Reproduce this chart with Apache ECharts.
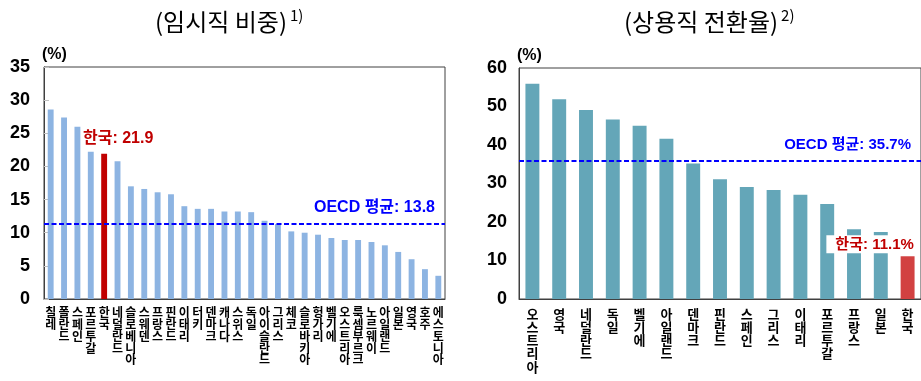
<!DOCTYPE html>
<html><head><meta charset="utf-8">
<script src="https://cdn.jsdelivr.net/npm/echarts@6/dist/echarts.min.js"></script>
<style>html,body{margin:0;padding:0;background:#fff}#c{width:921px;height:381px}</style>
</head><body><div id="c"></div>
<script>
const leftTitle = '(임시직 비중)';
const leftNote = '1)';
const rightTitle = '(상용직 전환율)';
const rightNote = '2)';
const leftCats = ['칠레','폴란드','스페인','포르투갈','한국','네덜란드','슬로베니아','스웨덴','프랑스','핀란드','이태리','터키','덴마크','캐나다','스위스','독일','아이슬란드','그리스','체코','슬로바키아','헝가리','벨기에','오스트리아','룩셈부르크','노르웨이','아일랜드','일본','영국','호주','에스토니아'];
const leftVals = [28.6,27.4,26.0,22.2,21.9,20.8,17.0,16.6,16.1,15.8,14.0,13.6,13.6,13.2,13.2,13.1,11.8,11.3,10.2,10.0,9.7,9.2,8.9,8.9,8.6,8.1,7.1,6.0,4.5,3.5];
const leftOecdLine = 11.4;
const leftOecdText = 'OECD 평균: 13.8';
const leftMax = 35, leftStep = 5;
const rightCats = ['오스트리아','영국','네덜란드','독일','벨기에','아일랜드','덴마크','핀란드','스페인','그리스','이태리','포르투갈','프랑스','일본','한국'];
const rightVals = [55.9,51.9,49.1,46.6,45.0,41.6,35.2,31.1,29.1,28.3,27.1,24.7,18.1,17.4,11.1];
const rightOecdLine = 36.0;
const rightOecdText = 'OECD 평균: 35.7%';
const rightMax = 60, rightStep = 10;
const unitLabel = '(%)';
const highlight = '한국';

const FONT = '"Liberation Sans", "Noto Sans CJK KR", sans-serif';
const KFONT = '"Noto Sans CJK KR", sans-serif';
const chart = echarts.init(document.getElementById('c'), null, {renderer:'canvas'});

function vert(v){ return v.split('').join('\n'); }

const leftData = leftCats.map((c,i)=> c===highlight ? {
  value:leftVals[i], itemStyle:{color:'#C00000'},
  label:{show:true, position:'top', distance:5, offset:[14,-2], formatter:'{b}: {c}', color:'#C00000', fontSize:16, fontWeight:'bold', fontFamily:FONT}
} : leftVals[i]);
const rightData = rightCats.map((c,i)=> c===highlight ? {
  value:rightVals[i], itemStyle:{color:'#D24141'},
  label:{show:true, position:'top', distance:3, offset:[-36,0], formatter:'{b}: {c}%', color:'#C00000', fontSize:15, fontWeight:'bold', fontFamily:FONT, backgroundColor:'#fff', padding:[2,3,1,9]}
} : rightVals[i]);

const titleRich = {
  main:{fontSize:24, fontFamily:KFONT, color:'#000'},
  sup:{fontSize:15, fontFamily:KFONT, color:'#000', verticalAlign:'top', padding:[0,0,12,3]}
};

const yCommon = (max, step, margin) => ({
  type:'value', min:0, max:max, interval:step,
  name:unitLabel, nameLocation:'end', nameGap:4,
  nameTextStyle:{color:'#000', fontSize:16, fontWeight:'bold', fontFamily:FONT, align:'left', padding:[0,0,0,-2]},
  axisLine:{show:true, lineStyle:{color:'#404040', width:1}},
  axisTick:{show:true, inside:true, length:5, lineStyle:{color:'#c0c0c0'}},
  splitLine:{show:false},
  axisLabel:{color:'#000', fontSize:18, fontWeight:'bold', fontFamily:FONT, margin:margin}
});

const option = {
  animation:false,
  backgroundColor:'#fff',
  title:[
    {text: '{main|' + leftTitle + '}{sup|' + leftNote + '}', left:150, top:3, textStyle:{fontSize:24, fontWeight:'normal', color:'#000', fontFamily:KFONT, rich:titleRich}},
    {text: '{main|' + rightTitle + '}{sup|' + rightNote + '}', left:619, top:3, textStyle:{fontSize:24, fontWeight:'normal', color:'#000', fontFamily:KFONT, rich:titleRich}}
  ],
  grid:[
    {left:44, top:67, width:401, height:232, show:true, borderColor:'#404040', borderWidth:1, backgroundColor:'transparent'},
    {left:519, top:68, width:404, height:231, show:true, borderColor:'#404040', borderWidth:1, backgroundColor:'transparent'}
  ],
  xAxis:[
    {type:'category', gridIndex:0, data:leftCats,
     axisLine:{lineStyle:{color:'#404040'}}, axisTick:{show:false},
     axisLabel:{interval:0, formatter:vert, color:'#000', fontSize:12, fontWeight:'bold', lineHeight:11.7, fontFamily:KFONT, margin:8, verticalAlign:'top'}},
    {type:'category', gridIndex:1, data:rightCats,
     axisLine:{lineStyle:{color:'#404040'}}, axisTick:{show:false},
     axisLabel:{interval:0, formatter:vert, color:'#000', fontSize:13, fontWeight:'bold', lineHeight:13.3, fontFamily:KFONT, margin:8, verticalAlign:'top'}}
  ],
  yAxis:[
    Object.assign(yCommon(leftMax, leftStep, 14), {gridIndex:0}),
    Object.assign(yCommon(rightMax, rightStep, 12), {gridIndex:1, axisTick:{show:false}})
  ],
  series:[
    {type:'bar', xAxisIndex:0, yAxisIndex:0, data:leftData, barWidth:'44%', itemStyle:{color:'#8DB4E2'},
     markLine:{silent:true, symbol:'none', data:[{yAxis:leftOecdLine}],
       lineStyle:{color:'#0000FF', width:2, type:[5,2.5]},
       label:{show:true, position:'insideEndTop', distance:[10,8], formatter:leftOecdText, color:'#0000FF', fontSize:16, fontWeight:'bold', fontFamily:FONT}}},
    {type:'bar', xAxisIndex:1, yAxisIndex:1, data:rightData, barWidth:'52%', itemStyle:{color:'#64A6B8'},
     markLine:{silent:true, symbol:'none', data:[{yAxis:rightOecdLine}],
       lineStyle:{color:'#0000FF', width:2, type:[5,2.5]},
       label:{show:true, position:'insideEndTop', distance:[10,8], formatter:rightOecdText, color:'#0000FF', fontSize:15, fontWeight:'bold', fontFamily:FONT}}}
  ]
};
chart.setOption(option);
</script>
</body></html>
